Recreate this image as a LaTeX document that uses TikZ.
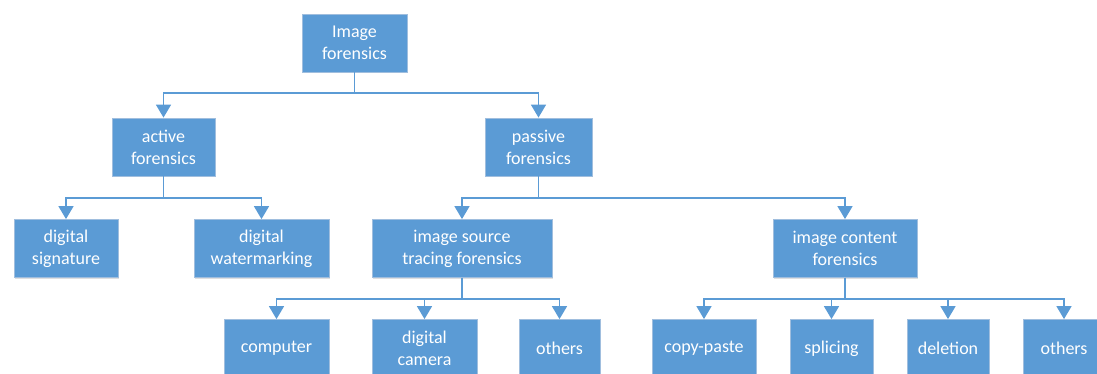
\documentclass[tikz,border=0pt]{standalone}
\usepackage{fontspec}
\setmainfont{Carlito}
\usetikzlibrary{arrows.meta,shadows}
\definecolor{boxblue}{RGB}{91,155,213}
\definecolor{boxedge}{RGB}{160,190,222}
\begin{document}
\begin{tikzpicture}[x=1pt, y=-1pt,
    box/.style={rectangle, fill=boxblue, draw=boxedge, line width=0.8pt,
        text=white, align=center, font=\fontsize{18}{22}\selectfont,
        minimum height=58pt, inner sep=0pt,
        drop shadow={shadow xshift=1.2pt, shadow yshift=-1.2pt, fill=black!25, opacity=0.5}},
    link/.style={draw=boxblue, line width=1.6pt, -{Triangle[width=15pt,length=13pt]}}]
    \useasboundingbox (0,0) rectangle (1097,374);

    % Top level
    \node[box, minimum width=105pt] (root) at (354.5,43) {Image\\forensics};

    % Second level
    \node[box, minimum width=103pt] (active) at (163.5,147) {active\\forensics};
    \node[box, minimum width=107pt] (passive) at (538.5,147) {passive\\forensics};

    % Third level
    \node[box, minimum width=104pt] (sign) at (66,248.5) {digital\\signature};
    \node[box, minimum width=135pt] (water) at (261.5,248.5) {digital\\watermarking};
    \node[box, minimum width=180pt] (source) at (462,248.5) {image source\\tracing forensics};
    \node[box, minimum width=144pt] (content) at (845,248.5) {image content\\forensics};

    % Fourth level
    \node[box, minimum width=105pt] (computer) at (276.5,348.5) {computer};
    \node[box, minimum width=105pt] (camera) at (424.5,348.5) {digital\\camera};
    \node[box, minimum width=81pt] (srcothers) at (559.5,348.5) {others};
    \node[box, minimum width=104pt] (copy) at (704,348.5) {copy-paste};
    \node[box, minimum width=83pt] (splice) at (831.5,348.5) {splicing};
    \node[box, minimum width=82pt] (delete) at (948,348.5) {deletion};
    \node[box, minimum width=82pt] (cntothers) at (1064,348.5) {others};

    % Bus lines
    \coordinate (bus1) at (0,93);
    \coordinate (bus2) at (0,198);
    \coordinate (bus3) at (0,299);

    % Connectors
    \foreach \child in {active, passive}
        \draw[link] (root.south) -- (root.south |- bus1) -| (\child.north);
    \foreach \child in {sign, water}
        \draw[link] (active.south) -- (active.south |- bus2) -| (\child.north);
    \foreach \child in {source, content}
        \draw[link] (passive.south) -- (passive.south |- bus2) -| (\child.north);
    \foreach \child in {computer, camera, srcothers}
        \draw[link] (source.south) -- (source.south |- bus3) -| (\child.north);
    \foreach \child in {copy, splice, delete, cntothers}
        \draw[link] (content.south) -- (content.south |- bus3) -| (\child.north);
\end{tikzpicture}
\end{document}
